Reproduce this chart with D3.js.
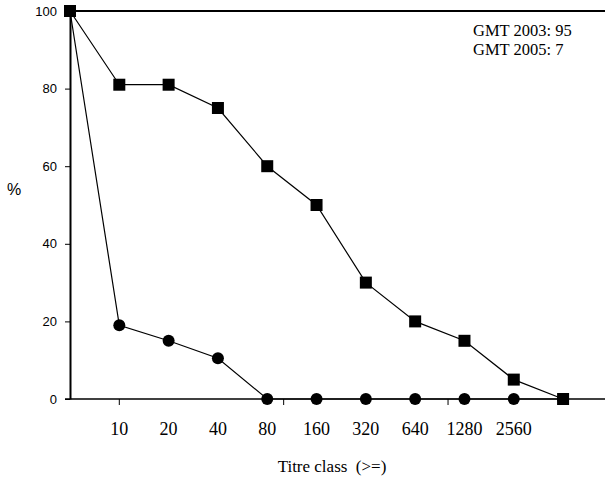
<!DOCTYPE html>
<html>
<head>
<meta charset="utf-8">
<script src="https://cdn.jsdelivr.net/npm/d3@7"></script>
<style>
  body { margin: 0; background: #fff; }
  svg { display: block; }
</style>
</head>
<body>
<div id="chart"></div>
<script>
'use strict';

// Titre classes (first class has no label)
const categories = ['', '10', '20', '40', '80', '160', '320', '640', '1280', '2560', ''];

// % with titre >= class
const values2003 = [100, 81, 81, 75, 60, 50, 30, 20, 15, 5, 0];
const values2005 = [100, 19, 15, 10.5, 0, 0, 0, 0, 0, 0, 0];

const yTicks = [0, 20, 40, 60, 80, 100];
// small tick marks on the category axis (as in the original)
const xTickMarks = [1, 13 / 3, 23 / 3];

const notes = ['GMT 2003: 95', 'GMT 2005: 7'];

// ── Layout ────────────────────────────────────────────────
const width = 605, height = 479;
const margin = { top: 11, right: 0, bottom: 80, left: 70 };

const svg = d3.select('#chart').append('svg')
    .attr('width', width)
    .attr('height', height);

const x = d3.scaleLinear()
    .domain([0, categories.length - 0.15])
    .range([margin.left, width - margin.right]);

const y = d3.scaleLinear()
    .domain([0, 100])
    .range([height - margin.bottom, margin.top]);

const serif = '"Liberation Serif", "Times New Roman", serif';
const sans = '"Liberation Sans", Arial, sans-serif';

// ── Frame: top line, x axis, y axis ───────────────────────
svg.append('line')
    .attr('x1', x(0)).attr('x2', width)
    .attr('y1', y(100)).attr('y2', y(100))
    .attr('stroke', '#000').attr('stroke-width', 2);

const xAxis = svg.append('g');
xAxis.append('line')
    .attr('x1', x(0) - 5).attr('x2', width)
    .attr('y1', y(0)).attr('y2', y(0))
    .attr('stroke', '#000').attr('stroke-width', 1.5);

xAxis.selectAll('line.tick')
    .data(xTickMarks)
    .join('line')
    .attr('class', 'tick')
    .attr('x1', d => x(d)).attr('x2', d => x(d))
    .attr('y1', y(0)).attr('y2', y(0) + 6)
    .attr('stroke', '#000').attr('stroke-width', 1);

xAxis.selectAll('text')
    .data(categories.map((c, i) => ({ c, i })).filter(d => d.c !== ''))
    .join('text')
    .attr('x', d => x(d.i))
    .attr('y', y(0) + 36)
    .attr('text-anchor', 'middle')
    .attr('font-family', serif)
    .attr('font-size', 18)
    .text(d => d.c);

const yAxis = svg.append('g')
    .attr('transform', `translate(${margin.left},0)`)
    .call(d3.axisLeft(y).tickValues(yTicks).tickSize(5).tickSizeOuter(0).tickPadding(8));

yAxis.select('.domain').attr('stroke-width', 2);
yAxis.selectAll('.tick line').attr('stroke-width', 1);
yAxis.selectAll('.tick text')
    .attr('font-family', sans)
    .attr('font-size', 13)
    .attr('fill', '#000');

// ── Axis titles ───────────────────────────────────────────
svg.append('text')
    .attr('x', 14)
    .attr('y', 195)
    .attr('text-anchor', 'middle')
    .attr('font-family', sans)
    .attr('font-size', 16)
    .text('%');

svg.append('text')
    .attr('x', 332)
    .attr('y', 472)
    .attr('text-anchor', 'middle')
    .attr('font-family', serif)
    .attr('font-size', 17)
    .attr('xml:space', 'preserve')
    .style('white-space', 'pre')
    .text('Titre class  (>=)');

// ── Series ────────────────────────────────────────────────
const line = d3.line()
    .x((d, i) => x(i))
    .y(d => y(d));

svg.append('path')
    .datum(values2003)
    .attr('d', line)
    .attr('fill', 'none')
    .attr('stroke', '#000')
    .attr('stroke-width', 1.2);

svg.append('path')
    .datum(values2005)
    .attr('d', line)
    .attr('fill', 'none')
    .attr('stroke', '#000')
    .attr('stroke-width', 1.2);

svg.selectAll('circle.m2005')
    .data(values2005)
    .join('circle')
    .attr('class', 'm2005')
    .attr('cx', (d, i) => x(i))
    .attr('cy', d => y(d))
    .attr('r', 6)
    .attr('fill', '#000');

const sq = 12;
svg.selectAll('rect.m2003')
    .data(values2003)
    .join('rect')
    .attr('class', 'm2003')
    .attr('x', (d, i) => x(i) - sq / 2)
    .attr('y', d => y(d) - sq / 2)
    .attr('width', sq)
    .attr('height', sq)
    .attr('fill', '#000');

// ── GMT notes ─────────────────────────────────────────────
svg.selectAll('text.note')
    .data(notes)
    .join('text')
    .attr('class', 'note')
    .attr('x', 473)
    .attr('y', (d, i) => 36 + i * 19)
    .attr('font-family', serif)
    .attr('font-size', 16.5)
    .text(d => d);
</script>
</body>
</html>
